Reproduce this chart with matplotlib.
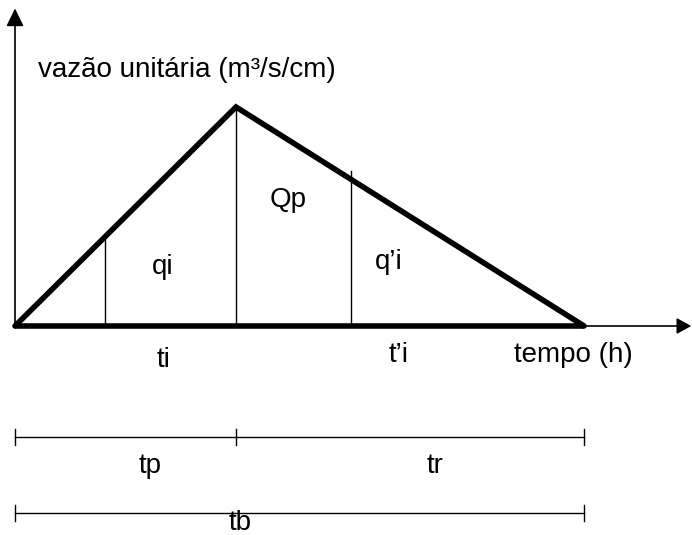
import matplotlib.pyplot as plt

plt.rcParams['font.family'] = ['Liberation Sans', 'DejaVu Sans']

# hydrogram points (time in h, unit discharge)
tp = 2.0
tb = 5.15
Qp = 1.0
t_tri = [0, tp, tb]
q_tri = [0, Qp, 0]

# ordinates drawn inside the triangle
t_ord = [0.81, tp, 3.04]
q_ord = [0.42, Qp, 0.71]

# dimension lines below the axis
dim_rows = [-0.507, -0.854]
dim_ticks = [[0, tp, tb], [0, tb]]

labels = ['Qp', 'qi', 'q’i', 'ti', 't’i', 'tempo (h)', 'tp', 'tr', 'tb']
label_t = [2.47, 1.34, 3.38, 1.34, 3.47, 5.05, 1.22, 3.80, 2.04]
label_q = [0.575, 0.27, 0.29, -0.155, -0.132, -0.132, -0.639, -0.639, -0.90]

fig = plt.figure(figsize=(6.92, 5.35), dpi=100)
ax = fig.add_axes([0, 0, 1, 1])
ax.set_xlim(-15 / 110.5, 677 / 110.5)
ax.set_ylim(-209 / 219, 326 / 219)
ax.axis('off')

# axes arrows
ax.annotate('', xy=(0, 1.45), xytext=(0, 0),
            arrowprops=dict(arrowstyle='-|>,head_length=0.45,head_width=0.22',
                            color='black', lw=1.2, mutation_scale=24, shrinkA=0, shrinkB=0))
ax.annotate('', xy=(6.12, 0), xytext=(tb, 0),
            arrowprops=dict(arrowstyle='-|>,head_length=0.4,head_width=0.22',
                            color='black', lw=1.2, mutation_scale=22, shrinkA=0, shrinkB=0))

# triangle + base
ax.plot(t_tri, q_tri, color='black', lw=4, solid_capstyle='round', solid_joinstyle='miter')
ax.plot([0, tb], [0, 0], color='black', lw=4, solid_capstyle='butt')

for t, q in zip(t_ord, q_ord):
    ax.plot([t, t], [0, q], color='black', lw=1.0)

for y, ticks in zip(dim_rows, dim_ticks):
    ax.plot([ticks[0], ticks[-1]], [y, y], color='black', lw=1.0)
    for t in ticks:
        ax.plot([t, t], [y - 0.035, y + 0.035], color='black', lw=1.0)

ax.text(0.208, 1.169, 'vazão unitária (m³/s/cm)', fontsize=20, ha='left', va='center')
for s, t, q in zip(labels, label_t, label_q):
    ax.text(t, q, s, fontsize=20, ha='center', va='center')

fig.savefig('out.png', dpi=100)
